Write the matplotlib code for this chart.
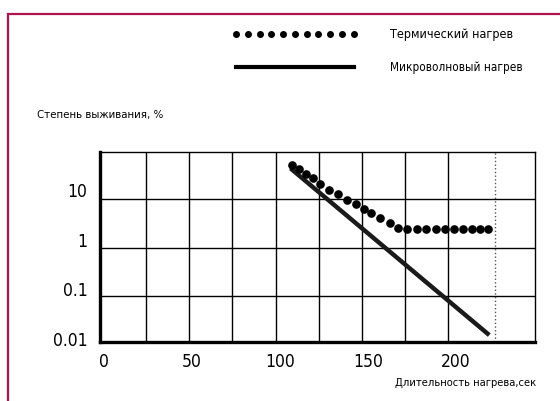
import numpy as np
from matplotlib import pyplot as plt
from matplotlib.lines import Line2D
from matplotlib.patches import Rectangle
from matplotlib.ticker import NullFormatter

plt.rcParams['font.family'] = ['DejaVu Sans']
plt.rcParams['font.stretch'] = 'condensed'

# data
thermal_x = [107, 111, 115, 119, 123, 128, 133, 138, 143, 148, 152, 157, 162.5, 167,
             172, 178, 183, 188.5, 194, 199, 204, 209, 213.5, 218.5]
thermal_y = [31.7, 26.3, 20.9, 17.3, 13.1, 10.0, 8.2, 6.3, 5.2, 4.07, 3.38, 2.68, 2.19, 1.69,
             1.63, 1.63, 1.63, 1.63, 1.63, 1.63, 1.63, 1.63, 1.63, 1.63]
micro_x = [106, 219]
micro_y = [27, 0.012]

x_ticks = [0, 50, 100, 150, 200]
y_ticks = [0.01, 0.1, 1, 10]
y_tick_labels = ['0.01', '0.1', '1', '10']
x_grid = [24, 48.5, 73, 97.5, 122, 146.5, 171, 195.5]
y_grid = [0.073, 0.67, 6.5]
x_limit = 222

label_thermal = 'Термический нагрев'
label_micro = 'Микроволновый нагрев'
y_title = 'Степень выживания, %'
x_title = 'Длительность нагрева,сек'


def main():
    fig = plt.figure(figsize=(5.6, 4.01), dpi=100)
    ax = fig.add_axes([100 / 560, 59 / 401, 435 / 560, 190 / 401])

    ax.plot(micro_x, micro_y, color='#1a1a1a', lw=3.2, solid_capstyle='butt')
    ax.plot(thermal_x, thermal_y, ls='none', marker='o', ms=5.2, color='black')
    ax.axvline(x_limit, color='#555555', lw=1, ls=':')

    ax.set_yscale('log')
    ax.set_xlim(-2.3, 245)
    ax.set_ylim(10 ** -2.06, 10 ** 1.76)

    ax.set_xticks(x_ticks)
    ax.set_yticks(y_ticks)
    ax.set_yticklabels(y_tick_labels)
    ax.set_xticks(x_grid, minor=True)
    ax.set_yticks(y_grid, minor=True)
    ax.yaxis.set_minor_formatter(NullFormatter())
    ax.xaxis.set_minor_formatter(NullFormatter())
    ax.grid(which='minor', color='black', lw=1)
    ax.set_axisbelow(True)
    ax.tick_params(which='both', length=0, labelsize=12.5)
    ax.tick_params(axis='x', pad=8)
    ax.tick_params(axis='y', pad=9)

    for side in ['left', 'bottom']:
        ax.spines[side].set_linewidth(2.4)
    for side in ['top', 'right']:
        ax.spines[side].set_linewidth(1)

    handles = [Line2D([], [], ls='none', marker='o', ms=4, color='black'),
               Line2D([], [], color='black', lw=3)]
    leg = fig.legend(handles, [label_thermal, label_micro],
                     loc='upper left', bbox_to_anchor=(226 / 560, 1 - 22 / 401),
                     frameon=False, numpoints=11, handlelength=10.0, handletextpad=2.6,
                     labelspacing=1.6, fontsize=9, borderpad=0)
    leg.get_texts()[1].set_fontsize(8.5)

    fig.text(37 / 560, 1 - 115 / 401, y_title, fontsize=8.2, va='center', ha='left')
    fig.text(395 / 560, 1 - 383 / 401, x_title, fontsize=8, va='center', ha='left')

    fig.add_artist(Rectangle((8 / 560, -0.1), 1.2, (401 - 14) / 401 + 0.1,
                             transform=fig.transFigure, fill=False,
                             ec='#b0124e', lw=1.6))

    fig.savefig('out.png', dpi=100)


if __name__ == '__main__':
    main()
